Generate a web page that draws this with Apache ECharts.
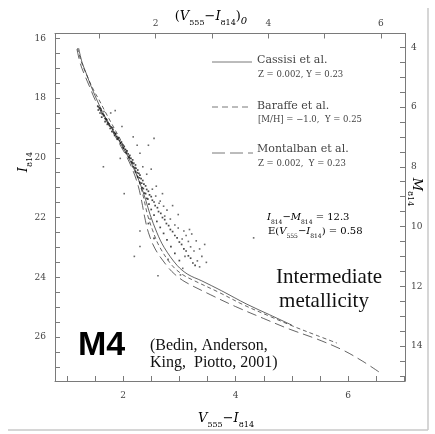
<!DOCTYPE html>
<html><head><meta charset="utf-8">
<script src="https://cdn.jsdelivr.net/npm/echarts@6/dist/echarts.min.js"></script>
<style>html,body{margin:0;padding:0;background:#fff}#c{width:435px;height:434px}</style>
</head><body><div id="c"></div>
<script>
// ---- tick labels ----
const bottomTickLabels = [2, 4, 6];
const topTickLabels = [2, 4, 6];
const leftTickLabels = [16, 18, 20, 22, 24, 26];
const rightTickLabels = [4, 6, 8, 10, 12, 14];
// ---- axis ranges ----
const colorRange = [0.79, 7.01];       // V555 - I814
const reddening = 0.58;                // E(V555 - I814)
const magRange = [15.84, 27.47];       // I814
const distMod = 12.3;                  // I814 - M814
// ---- isochrones: [V555-I814, I814] ----
const cassisi = [[1.21,16.33],[1.27,16.8],[1.35,17.2],[1.43,17.6],[1.52,18.0],[1.63,18.45],[1.76,18.9],[1.92,19.4],[2.07,19.9],[2.20,20.4],[2.31,20.9],[2.40,21.4],[2.48,21.9],[2.60,22.5],[2.73,23.0],[2.96,23.6],[3.15,23.9],[3.40,24.12],[3.75,24.45],[4.2,24.9],[4.6,25.25],[5.0,25.6]];
const baraffe = [[1.19,16.33],[1.26,16.8],[1.37,17.3],[1.48,17.75],[1.57,18.05],[1.68,18.45],[1.81,18.9],[1.95,19.38],[2.09,19.88],[2.21,20.38],[2.30,20.88],[2.37,21.38],[2.43,21.88],[2.52,22.4],[2.64,22.95],[2.86,23.58],[3.05,23.9],[3.25,24.1],[3.7,24.5],[4.15,24.93],[4.6,25.3],[5.0,25.62],[5.45,25.95],[5.8,26.2]];
const montalban = [[1.18,16.36],[1.24,16.85],[1.31,17.2],[1.40,17.6],[1.50,18.05],[1.62,18.5],[1.76,18.95],[1.91,19.45],[2.06,19.95],[2.18,20.45],[2.27,20.95],[2.33,21.45],[2.38,21.95],[2.45,22.5],[2.57,23.05],[2.78,23.62],[2.92,23.9],[3.1,24.15],[3.55,24.58],[4.0,24.98],[4.5,25.38],[4.95,25.73],[5.45,26.07],[5.9,26.43],[6.25,26.8],[6.55,27.17]];
// ---- observed stars: [V555-I814, I814] ----
const starsSequence = [[1.55,18.28],[1.58,18.33],[1.56,18.4],[1.61,18.42],[1.59,18.5],[1.63,18.53],[1.66,18.6],[1.62,18.64],[1.68,18.68],[1.71,18.73],[1.68,18.79],[1.73,18.82],[1.72,18.88],[1.76,18.92],[1.79,18.97],[1.77,19.02],[1.82,19.06],[1.80,19.12],[1.84,19.15],[1.87,19.2],[1.85,19.25],[1.89,19.29],[1.92,19.33],[1.90,19.38],[1.94,19.42],[1.97,19.47],[1.95,19.52],[1.99,19.57],[2.02,19.62],[2.00,19.66],[2.04,19.72],[2.07,19.77],[2.05,19.82],[2.09,19.87],[2.12,19.92],[2.10,19.97],[2.14,20.02],[2.17,20.07],[2.15,20.13],[2.19,20.18],[2.22,20.24],[2.18,20.3],[2.23,20.35],[2.26,20.41],[2.22,20.47],[2.28,20.52],[2.30,20.58],[2.26,20.64],[2.32,20.7],[2.35,20.76],[2.30,20.83],[2.37,20.88],[2.40,20.94],[2.34,21.0],[2.42,21.06],[2.45,21.12],[2.38,21.18],[2.47,21.24],[2.50,21.3],[2.42,21.36],[2.52,21.42],[2.55,21.48],[2.46,21.55],[2.57,21.6],[2.61,21.67],[2.50,21.73],[2.63,21.8],[2.67,21.86],[2.55,21.92],[2.70,22.0],[2.74,22.07],[2.60,22.13],[2.77,22.2],[2.81,22.27],[2.66,22.33],[2.84,22.4],[2.88,22.47],[2.72,22.53],[2.92,22.6],[2.96,22.68],[2.78,22.75],[3.00,22.82],[3.04,22.9],[2.85,22.97],[3.08,23.05],[3.12,23.12],[2.92,23.2],[3.16,23.28],[3.20,23.36],[3.00,23.44],[3.24,23.52],[3.28,23.6],[2.45,22.2],[2.55,22.7],[1.60,18.36],[1.65,18.56],[1.70,18.7],[1.75,18.86],[1.81,19.0],[1.86,19.18],[1.91,19.35],[1.96,19.5],[2.01,19.68],[2.06,19.85],[2.11,20.0],[2.16,20.16],[2.21,20.33],[2.25,20.5],[2.29,20.67],[2.33,20.85],[2.36,21.03],[2.40,21.2],[2.44,21.38]];
const starsSpread = [[1.66,18.45],[1.78,18.5],[1.86,18.42],[1.98,18.95],[2.25,19.58],[2.45,19.58],[2.30,19.85],[1.95,20.02],[2.18,19.3],[2.55,19.35],[2.35,20.3],[2.42,20.55],[2.50,20.38],[2.59,20.95],[2.52,21.05],[2.58,21.28],[2.66,21.45],[2.72,21.62],[2.78,21.75],[2.74,21.95],[2.84,22.05],[2.64,21.52],[2.48,22.05],[2.92,22.25],[2.98,22.35],[3.08,22.45],[3.18,22.4],[3.12,22.6],[3.22,22.55],[3.05,22.72],[3.16,22.8],[3.30,22.78],[3.20,22.98],[3.26,23.12],[3.36,23.05],[3.10,23.3],[3.32,23.45],[3.40,23.3],[3.06,23.7],[3.36,23.65],[2.80,23.4],[4.32,22.68],[1.65,20.3],[2.02,21.2],[2.30,22.45],[2.30,22.97],[2.20,23.3],[2.62,23.95],[3.02,23.92],[2.88,21.6],[2.98,21.9],[2.70,21.2],[3.48,23.5],[3.45,22.9]];

const TF = 'DejaVu Serif';
const axisColor = '#7a7a7a';
function labelOnly(list){ return v => list.some(t => Math.abs(t - v) < 1e-6) ? String(Math.round(v)) : ''; }
function mkAxisCommon(list, margin){
  return {
    type: 'value', scale: true,
    axisLine: {show: true, onZero: false, lineStyle: {color: axisColor, width: 1}},
    axisTick: {show: true, inside: true, length: 5, lineStyle: {color: axisColor, width: 1}},
    axisLabel: {show: true, margin: margin, formatter: labelOnly(list), fontFamily: TF, fontSize: 9, color: '#444'},
    splitLine: {show: false}
  };
}

const chart = echarts.init(document.getElementById('c'), null, {renderer: 'canvas'});
const lineBase = {type: 'line', showSymbol: false, symbol: 'none', smooth: 0.35, silent: true, z: 3};
const richSub = (size) => ({
  i: {fontFamily: TF, fontStyle: 'italic', fontSize: size, lineHeight: size + 6, color: '#333'},
  n: {fontFamily: TF, fontSize: size, lineHeight: size + 6, color: '#333'},
  s: {fontFamily: TF, fontSize: Math.round(size * 0.62), lineHeight: Math.round(size * 0.62), verticalAlign: 'bottom', color: '#333'},
  si: {fontFamily: TF, fontStyle: 'italic', fontSize: Math.round(size * 0.75), lineHeight: Math.round(size * 0.75), verticalAlign: 'bottom', color: '#333'}
});

const option = {
  animation: false,
  backgroundColor: '#ffffff',
  grid: {left: 55, right: 30, top: 33.5, bottom: 53, containLabel: false},
  xAxis: [
    Object.assign(mkAxisCommon(bottomTickLabels, 10), {position: 'bottom', min: colorRange[0], max: colorRange[1], splitNumber: 12}),
    Object.assign(mkAxisCommon(topTickLabels, 5), {position: 'top', min: colorRange[0] - reddening, max: colorRange[1] - reddening, splitNumber: 6})
  ],
  yAxis: [
    Object.assign(mkAxisCommon(leftTickLabels, 9), {position: 'left', inverse: true, min: magRange[0], max: magRange[1], splitNumber: 23}),
    Object.assign(mkAxisCommon(rightTickLabels, 6), {position: 'right', inverse: true, min: magRange[0] - distMod, max: magRange[1] - distMod, splitNumber: 23})
  ],
  series: [
    Object.assign({}, lineBase, {name: 'Cassisi et al.', data: cassisi, lineStyle: {color: '#222', width: 0.7, type: 'solid'}}),
    Object.assign({}, lineBase, {name: 'Baraffe et al.', data: baraffe, lineStyle: {color: '#222', width: 0.7, type: [4, 3]}}),
    Object.assign({}, lineBase, {name: 'Montalban et al.', data: montalban, lineStyle: {color: '#222', width: 0.7, type: [10, 5]}}),
    {type: 'scatter', data: starsSequence, symbol: 'rect', symbolSize: 1.7, itemStyle: {color: '#1a1a1a'}, silent: true, z: 4},
    {type: 'scatter', data: starsSpread, symbol: 'rect', symbolSize: 1.6, itemStyle: {color: '#444'}, silent: true, z: 4}
  ],
  graphic: [
    // outer border lines
    {type: 'line', shape: {x1: 428, y1: 8, x2: 428, y2: 430}, style: {stroke: '#c8c8c8', lineWidth: 1.5}},
    {type: 'line', shape: {x1: 8, y1: 430, x2: 428, y2: 430}, style: {stroke: '#c8c8c8', lineWidth: 1.5}},
    // axis titles
    {type: 'text', x: 211, y: 17, style: {text: '{n|(}{i|V}{s|555}{n|−}{i|I}{s|814}{n|)}{si|0}', rich: richSub(13), textAlign: 'center', textVerticalAlign: 'middle'}},
    {type: 'text', x: 226, y: 419, style: {text: '{i|V}{s|555}{n|−}{i|I}{s|814}', rich: richSub(13), textAlign: 'center', textVerticalAlign: 'middle'}},
    {type: 'text', x: 24, y: 162, rotation: Math.PI / 2, style: {text: '{i|I}{s|814}', rich: richSub(13), textAlign: 'center', textVerticalAlign: 'middle'}},
    {type: 'text', x: 416, y: 192, rotation: -Math.PI / 2, style: {text: '{i|M}{s|814}', rich: richSub(13), textAlign: 'center', textVerticalAlign: 'middle'}},
    // legend
    {type: 'line', shape: {x1: 212, y1: 62, x2: 252, y2: 62}, style: {stroke: '#555', lineWidth: 0.8}},
    {type: 'line', shape: {x1: 212, y1: 107, x2: 252, y2: 107}, style: {stroke: '#555', lineWidth: 0.8, lineDash: [6, 4]}},
    {type: 'line', shape: {x1: 212, y1: 153, x2: 253, y2: 153}, style: {stroke: '#555', lineWidth: 0.8, lineDash: [13, 5]}},
    {type: 'text', x: 257, y: 60, style: {text: 'Cassisi et al.', font: '11px "DejaVu Serif"', fill: '#444', textVerticalAlign: 'middle'}},
    {type: 'text', x: 258, y: 75, style: {text: 'Z = 0.002, Y = 0.23', font: '8.5px "DejaVu Serif"', fill: '#444', textVerticalAlign: 'middle'}},
    {type: 'text', x: 257, y: 106, style: {text: 'Baraffe et al.', font: '11px "DejaVu Serif"', fill: '#444', textVerticalAlign: 'middle'}},
    {type: 'text', x: 258, y: 120, style: {text: '[M/H] = −1.0,  Y = 0.25', font: '8.5px "DejaVu Serif"', fill: '#444', textVerticalAlign: 'middle'}},
    {type: 'text', x: 257, y: 149, style: {text: 'Montalban et al.', font: '11px "DejaVu Serif"', fill: '#444', textVerticalAlign: 'middle'}},
    {type: 'text', x: 258, y: 164, style: {text: 'Z = 0.002,  Y = 0.23', font: '8.5px "DejaVu Serif"', fill: '#444', textVerticalAlign: 'middle'}},
    {type: 'text', x: 267, y: 217, style: {text: '{i|I}{s|814}{n|−}{i|M}{s|814}{n| = 12.3}', rich: richSub(10), textVerticalAlign: 'middle'}},
    {type: 'text', x: 268, y: 231, style: {text: '{n|E(}{i|V}{s|555}{n|−}{i|I}{s|814}{n|) = 0.58}', rich: richSub(10), textVerticalAlign: 'middle'}},
    // big annotations
    {type: 'text', x: 329, y: 277, style: {text: 'Intermediate', font: '21px "Liberation Serif"', fill: '#111', textAlign: 'center', textVerticalAlign: 'middle'}},
    {type: 'text', x: 324, y: 301, style: {text: 'metallicity', font: '21px "Liberation Serif"', fill: '#111', textAlign: 'center', textVerticalAlign: 'middle'}},
    {type: 'text', x: 78, y: 346, style: {text: 'M4', font: 'bold 34px "Liberation Sans"', fill: '#000', textVerticalAlign: 'middle'}},
    {type: 'text', x: 150, y: 346, style: {text: '(Bedin, Anderson,', font: '16px "Liberation Serif"', fill: '#111', textVerticalAlign: 'middle'}},
    {type: 'text', x: 150, y: 363, style: {text: 'King,  Piotto, 2001)', font: '16px "Liberation Serif"', fill: '#111', textVerticalAlign: 'middle'}}
  ]
};
chart.setOption(option);
</script></body></html>
